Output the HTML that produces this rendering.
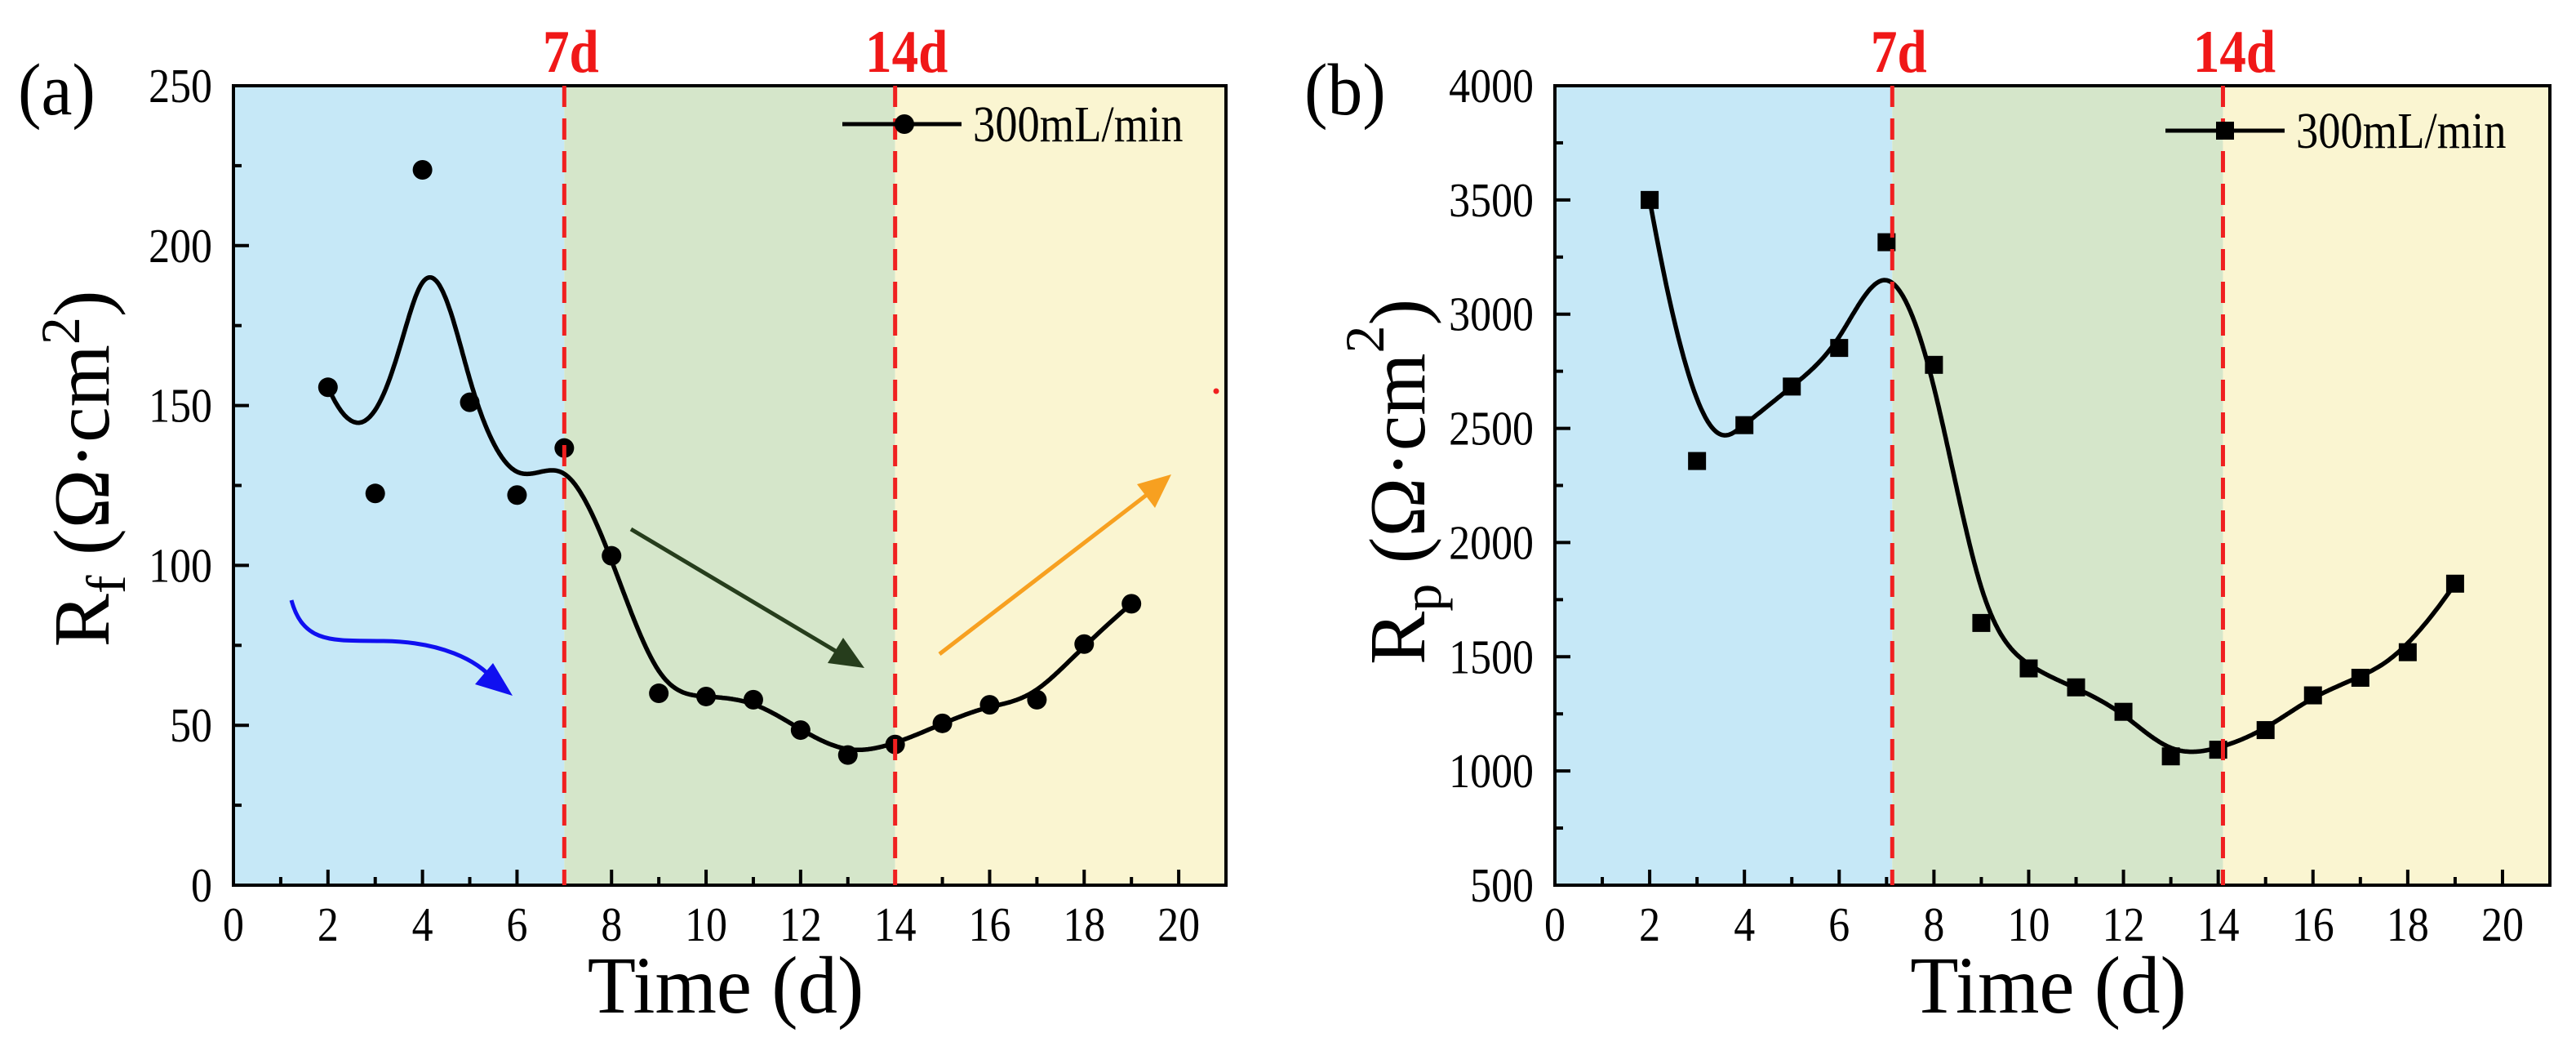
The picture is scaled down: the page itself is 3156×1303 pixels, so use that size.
<!DOCTYPE html>
<html><head><meta charset="utf-8">
<style>
html,body{margin:0;padding:0;background:#fff;}
svg{display:block;}
text{font-family:"Liberation Serif",serif;fill:#000;}
</style></head>
<body>
<svg id="fig" width="3156" height="1303" viewBox="0 0 3156 1303" xmlns="http://www.w3.org/2000/svg">
</svg>
<script>
// ---- data ----
const days = [2,3,4,5,6,7,8,9,10,11,12,13,14,15,16,17,18,19];
const rfValues = [155.7,122.5,223.7,151,122,136.7,103,60,59,58,48.5,40.7,44,50.6,56.4,58,75.4,88];
const rpValues = [3500,2357,2514,2683,2852,3315,2778,1648,1449,1366,1259,1064,1093,1179,1331,1408,1520,1820];
const xTicksA = [0,2,4,6,8,10,12,14,16,18,20];
const yTicksA = [0,50,100,150,200,250];
const yTicksB = [500,1000,1500,2000,2500,3000,3500,4000];
const stageDaysA = [7,14];
const stageDaysB = [7.12,14.1];

const NS = "http://www.w3.org/2000/svg";
const svg = document.getElementById('fig');
const SX = 0.88;
function mk(tag, attrs, parent){
  const e = document.createElementNS(NS, tag);
  for (const k in attrs) e.setAttribute(k, attrs[k]);
  (parent||svg).appendChild(e);
  return e;
}
function txt(parent, x, y, size, str, anchor, extra){
  const t = mk('text', Object.assign({x:0,y:0,'font-size':size,'text-anchor':anchor||'start',transform:`translate(${x},${y}) scale(${SX},1)`}, extra||{}), parent);
  t.textContent = str;
  return t;
}
function bspline(px, py){
  const n = px.length, k = 3;
  const knots = [];
  for (let i=0;i<=k;i++) knots.push(0);
  for (let i=1;i<=n-k-1;i++) knots.push(i);
  for (let i=0;i<=k;i++) knots.push(n-k);
  const tmax = n-k, out = [];
  const steps = 600;
  for (let s=0;s<=steps;s++){
    let t = tmax*s/steps; if (t>=tmax) t = tmax-1e-9;
    let j = k; while (j < n-1 && knots[j+1] <= t) j++;
    const dx=[], dy=[];
    for (let i=0;i<=k;i++){ dx.push(px[j-k+i]); dy.push(py[j-k+i]); }
    for (let r=1;r<=k;r++){
      for (let i=k;i>=r;i--){
        const a = (t - knots[j-k+i])/(knots[j+1+i-r]-knots[j-k+i]);
        dx[i] = (1-a)*dx[i-1]+a*dx[i];
        dy[i] = (1-a)*dy[i-1]+a*dy[i];
      }
    }
    out.push([dx[k],dy[k]]);
  }
  return out;
}

function panel(cfg){
  const g = mk('g', {});
  
  
  const X = v => cfg.L + (v - 0)/(21) * (cfg.R - cfg.L);
  const Y = v => cfg.B - (v - cfg.ymin)/(cfg.ymax - cfg.ymin) * (cfg.B - cfg.T);
  const s1 = X(cfg.stages[0]), s2 = X(cfg.stages[1]);
  const bg1 = mk('rect',{x:cfg.L,y:cfg.T,width:s1-cfg.L,height:cfg.B-cfg.T,fill:'#c6e8f7'},g);
   
  const bg2 = mk('rect',{x:s1,y:cfg.T,width:s2-s1,height:cfg.B-cfg.T,fill:'#d5e6ca'},g);
   
  const bg3 = mk('rect',{x:s2,y:cfg.T,width:cfg.R-s2,height:cfg.B-cfg.T,fill:'#faf5d1'},g);
   
  for (let v=0; v<=21; v++){
    const major = v%2===0;
    const t = mk('line',{x1:X(v),x2:X(v),y1:cfg.B,y2:cfg.B-(major?19:10),stroke:'#000','stroke-width':4},g);
     
  }
  xTicksA.forEach(v=>{
    const t = txt(g, X(v), cfg.B+68, 59, String(v), 'middle');
     
  });
  const step = cfg.yticks[1]-cfg.yticks[0];
  for (let v=cfg.ymin; v<=cfg.ymax+1e-6; v+=step/2){
    const major = Math.abs(((v-cfg.ymin)/step)%1)<1e-6;
    const t = mk('line',{x1:cfg.L,x2:cfg.L+(major?19:10),y1:Y(v),y2:Y(v),stroke:'#000','stroke-width':4},g);
     
  }
  cfg.yticks.forEach(v=>{
    const t = txt(g, cfg.L-26, Y(v)+20, 59, String(v), 'end');
     
  });
  const fr = mk('rect',{x:cfg.L,y:cfg.T,width:cfg.R-cfg.L,height:cfg.B-cfg.T,fill:'none',stroke:'#000','stroke-width':4},g);
   
  const pts = bspline(days, cfg.values);
  const d = pts.map((p,i)=>(i?'L':'M')+X(p[0]).toFixed(1)+','+Y(p[1]).toFixed(1)).join(' ');
  const cv = mk('path',{d:d,fill:'none',stroke:'#000','stroke-width':5.5,'stroke-linejoin':'round'},g);
   
  days.forEach((dd,i)=>{
    let m;
    if (cfg.marker==='circle') m = mk('circle',{cx:X(dd),cy:Y(cfg.values[i]),r:12,fill:'#000'},g);
    else m = mk('rect',{x:X(dd)-11,y:Y(cfg.values[i])-11,width:22,height:22,fill:'#000'},g);
     
  });
  cfg.stages.forEach((sd,i)=>{
    const l = mk('line',{x1:X(sd),x2:X(sd),y1:cfg.T,y2:cfg.B,stroke:'#f02020','stroke-width':5,'stroke-dasharray':'26 14'},g);
     
    const t = txt(g, X(sd)+(i?14:8), 88, 74, i?'14d':'7d', 'middle', {'font-weight':'bold'});
    t.style.fill='#f01818';
     
  });
  const lg = mk('g',{},g);
   
  mk('line',{x1:cfg.legX,x2:cfg.legX+146,y1:cfg.legY,y2:cfg.legY,stroke:'#000','stroke-width':5},lg);
  if (cfg.marker==='circle') mk('circle',{cx:cfg.legX+76,cy:cfg.legY,r:12,fill:'#000'},lg);
  else mk('rect',{x:cfg.legX+62,y:cfg.legY-11,width:22,height:22,fill:'#000'},lg);
  txt(lg, cfg.legX+160, cfg.legY+21, 62, '300mL/min', 'start');
  const xt = txt(g, (cfg.L+cfg.R)/2 - 5, 1240, 100, 'Time (d)', 'middle');
  xt.setAttribute('transform', `translate(${(cfg.L+cfg.R)/2-5},1240) scale(0.97,1)`);
   
  const yt = mk('text',{x:0,y:0,'font-size':98,'text-anchor':'middle',transform:`translate(${cfg.yTitleX},${cfg.yTitleY}) rotate(-90)`},g);
  yt.innerHTML = `R<tspan font-size="68" dy="20">${cfg.sub}</tspan><tspan dy="-20">  (Ω·cm</tspan><tspan font-size="68" dy="${cfg.supDy}">2</tspan><tspan dy="${-cfg.supDy}">)</tspan>`;
   
  const pl = mk('text',{x:0,y:0,'font-size':90,transform:`translate(${cfg.tagX},140) scale(0.95,1)`},g);
  pl.textContent = cfg.tag;
   
  return {g,X,Y};
}

const A = panel({name:'panel-a-rf-chart',L:286,R:1502,T:105,B:1084,ymin:0,ymax:250,yticks:yTicksA,values:rfValues,marker:'circle',stages:stageDaysA,legX:1032,legY:152,sub:'f',supDy:-36,yTitleX:133,yTitleY:574,tag:'(a)',tagX:22});
const Bp = panel({name:'panel-b-rp-chart',L:1905,R:3124,T:105,B:1084,ymin:500,ymax:4000,yticks:yTicksB,values:rpValues,marker:'square',stages:stageDaysB,legX:2653,legY:160,sub:'p',supDy:-50,yTitleX:1745,yTitleY:590,tag:'(b)',tagX:1598});

const ga = A.g;
const blue = mk('path',{d:'M357,735 C372,790 410,784 470,785 C540,786 585,808 606,834',fill:'none',stroke:'#1010f0','stroke-width':5},ga);
 
const bh = mk('path',{d:'M628,852 L582,838 L604,812 z',fill:'#1010f0'},ga);
 
const gr = mk('line',{x1:773,y1:648,x2:1030,y2:801,stroke:'#263d1c','stroke-width':5},ga);
 
const grh = mk('path',{d:'M1059,818 L1014,812 L1033,781 z',fill:'#263d1c'},ga);
 
const og = mk('line',{x1:1151,y1:801,x2:1410,y2:602,stroke:'#f7a020','stroke-width':5},ga);
 
const ogh = mk('path',{d:'M1435,581 L1415,622 L1393,593 z',fill:'#f7a020'},ga);
 
const dot = mk('circle',{cx:1490,cy:479,r:3.5,fill:'#f02020'},ga);
 
</script>
</body></html>
